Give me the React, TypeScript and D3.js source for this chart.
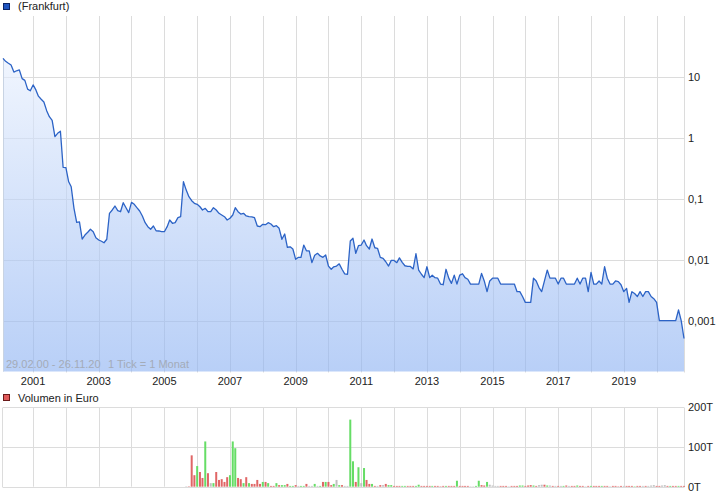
import React from "react";
import * as d3 from "d3";

// Monthly closing prices (EUR), Feb 2000 .. Nov 2020, one per month
const prices: number[] = [
  20.5, 18.3, 17.0, 15.9, 12.2, 12.8, 13.2, 9.5, 8.9, 6.4, 6.0, 7.5,
  6.2, 4.9, 4.35, 3.93, 2.83, 2.25, 1.96, 1.06, 1.2, 1.3, 0.332, 0.327,
  0.192, 0.159, 0.0703, 0.0414, 0.042, 0.022, 0.0256, 0.0284, 0.0318, 0.029, 0.0231, 0.0212,
  0.0202, 0.0191, 0.0218, 0.0582, 0.066, 0.0767, 0.0643, 0.0618, 0.0869, 0.0719, 0.0596, 0.088,
  0.0818, 0.072, 0.0635, 0.0526, 0.0408, 0.0351, 0.0318, 0.036, 0.0301, 0.0298, 0.029, 0.029,
  0.0351, 0.0452, 0.0399, 0.0408, 0.0493, 0.0512, 0.192, 0.14, 0.109, 0.0938, 0.085, 0.0818,
  0.0746, 0.066, 0.0703, 0.0618, 0.0618, 0.0719, 0.066, 0.0582, 0.0546, 0.0512, 0.0452, 0.0482,
  0.0546, 0.0719, 0.0618, 0.0566, 0.0582, 0.0526, 0.0512, 0.051, 0.0493, 0.036, 0.0351, 0.0384,
  0.0378, 0.0408, 0.0388, 0.0351, 0.0364, 0.033, 0.0218, 0.0266, 0.0161, 0.0164, 0.0151, 0.0102,
  0.011, 0.011, 0.0175, 0.0141, 0.014, 0.009, 0.0119, 0.0128, 0.0116, 0.011, 0.012, 0.0079,
  0.007, 0.0077, 0.0079, 0.0086, 0.007, 0.0059, 0.0058, 0.0204, 0.0226, 0.0128, 0.0171, 0.0175,
  0.0212, 0.0171, 0.0151, 0.022, 0.0158, 0.0155, 0.011, 0.0106, 0.0093, 0.0079, 0.0098, 0.0098,
  0.009, 0.0108, 0.0091, 0.008, 0.0078, 0.0078, 0.0071, 0.0126, 0.0068, 0.0058, 0.0051, 0.0077,
  0.0051, 0.0056, 0.0051, 0.005, 0.004, 0.0039, 0.007, 0.005, 0.0041, 0.0056, 0.004, 0.0056,
  0.0059, 0.0051, 0.0048, 0.004, 0.004, 0.004, 0.004, 0.006, 0.0045, 0.003, 0.0045, 0.005,
  0.005, 0.005, 0.004, 0.004, 0.004, 0.004, 0.004, 0.004, 0.003, 0.003, 0.0025, 0.002,
  0.002, 0.002, 0.005, 0.0045, 0.0035, 0.003, 0.0045, 0.0068, 0.005, 0.005, 0.005, 0.004,
  0.005, 0.005, 0.004, 0.004, 0.004, 0.004, 0.005, 0.004, 0.005, 0.005, 0.003, 0.0062,
  0.004, 0.004, 0.0045, 0.004, 0.0077, 0.005, 0.004, 0.004, 0.0045, 0.0044, 0.0039, 0.003,
  0.0034, 0.002, 0.003, 0.0028, 0.0025, 0.003, 0.0025, 0.003, 0.003, 0.0025, 0.0023, 0.002,
  0.001, 0.001, 0.001, 0.001, 0.001, 0.001, 0.001, 0.0015, 0.001, 0.00051,
];

// Monthly volume in thousand EUR, starting Sep 2005 (month index 67)
const volumeStartIndex = 67;
const volumes: number[] = [
  1, 1, 79, 29, 52, 37, 22, 114, 34, 9, 9, 37, 17,
  19, 12, 24, 29, 114, 97, 22, 19, 9, 24,
  9, 7, 7, 17, 7, 12, 12, 9, 2, 2,
  9, 4, 4, 4, 7, 2, 2, 4, 2, 2,
  2, 7, 2, 2, 7, 2, 2, 12, 12, 12,
  4, 7, 17, 4, 4, 2, 2, 169, 64, 12,
  49, 9, 47, 17, 7, 7, 2, 2, 4, 4,
  7, 4, 4, 2, 2, 2, 2, 2, 2, 2,
  2, 2, 5, 2, 2, 2, 2, 2, 2, 2,
  1, 2, 2, 2, 2, 2, 15, 2, 2, 2,
  2, 1, 1, 2, 15, 4, 3, 12, 5, 3,
  2, 2, 2, 2, 2, 1, 2, 2, 2, 3,
  3, 2, 3, 4, 3, 2, 4, 5, 5, 3,
  3, 2, 2, 2, 2, 2, 3, 2, 2, 2,
  3, 2, 2, 1, 2, 2, 2, 2, 2, 2,
  2, 2, 1, 2, 2, 1, 2, 2, 2, 2,
  2, 1, 2, 2, 2, 2, 2, 3, 4, 2,
  2, 3, 4, 2, 2, 2, 2, 2, 2, 2,
];
// u = up (green), d = down (red), n = unchanged (grey)
const volumeDirs: string[] = [
  "n", "d", "d", "d", "u", "d", "d", "u", "d", "n", "u", "d", "d",
  "d", "d", "d", "u", "u", "u", "d", "d", "u", "d",
  "u", "d", "d", "d", "d", "u", "d", "u", "d", "d",
  "u", "d", "u", "u", "d", "u", "u", "d", "n", "u",
  "u", "d", "n", "n", "u", "n", "u", "d", "u", "d",
  "d", "u", "n", "u", "d", "n", "n", "u", "u", "d",
  "u", "n", "u", "d", "d", "u", "d", "n", "d", "n",
  "d", "u", "u", "d", "d", "d", "u", "u", "d", "d",
  "d", "u", "u", "d", "d", "d", "d", "u", "d", "d",
  "d", "d", "u", "d", "d", "d", "u", "d", "d", "d",
  "d", "n", "n", "u", "u", "d", "d", "u", "n", "n",
  "n", "n", "d", "d", "d", "n", "d", "d", "d", "u",
  "u", "d", "d", "d", "u", "d", "n", "n", "d", "u",
  "n", "d", "n", "d", "n", "u", "d", "n", "d", "d",
  "u", "d", "d", "n", "d", "u", "d", "d", "d", "u",
  "d", "d", "n", "d", "d", "d", "d", "n", "d", "d",
  "d", "u", "d", "d", "n", "d", "n", "n", "n", "d",
  "d", "n", "n", "d", "u", "d", "d", "u", "d", "d",
];

const priceTicks = [10, 1, 0.1, 0.01, 0.001];
const priceTickLabels = ["10", "1", "0,1", "0,01", "0,001"];
const volumeTicks = [0, 100, 200];
const volumeTickLabels = ["0T", "100T", "200T"];
const gridYears = [2001, 2002, 2003, 2004, 2005, 2006, 2007, 2008, 2009, 2010, 2011, 2012, 2013, 2014, 2015, 2016, 2017, 2018, 2019, 2020];
const labelYears = [2001, 2003, 2005, 2007, 2009, 2011, 2013, 2015, 2017, 2019];

const FONT = "'Liberation Sans', Arial, Helvetica, sans-serif";
const W = 726;
const H = 496;
const PLOT_L = 3;
const PLOT_R = 684;
const PLOT_T = 16;
const PLOT_B = 371.5;
const VOL_T = 407.3;
const VOL_B = 486.7;

const monthDate = (i: number) => new Date(2000, 1 + i, 1);

export default function App() {
  const x = d3.scaleTime().domain([new Date(2000, 1, 1), new Date(2020, 10, 1)]).range([PLOT_L, PLOT_R]);
  const y = d3.scaleLog().domain([0.001, 10]).range([320.7, 77.3]);
  const vy = d3.scaleLinear().domain([0, 200]).range([VOL_B, VOL_T]);

  const series = prices.map((v, i) => ({ date: monthDate(i), value: v }));
  const line = d3.line<{ date: Date; value: number }>().x((d) => x(d.date)).y((d) => y(d.value));
  const area = d3
    .area<{ date: Date; value: number }>()
    .x((d) => x(d.date))
    .y0(PLOT_B)
    .y1((d) => y(d.value));

  const vol = volumes.map((v, i) => ({ date: monthDate(volumeStartIndex + i), value: v, dir: volumeDirs[i] }));
  const dirColor: Record<string, string> = { u: "#66dd66", d: "#e06666", n: "#c0c0c0" };

  const px = (v: number) => Math.round(v) + 0.5;
  const grid = "#dcdcdc";

  return (
    <svg
      width={W}
      height={H}
      style={{ position: "absolute", left: 0, top: 0, background: "#fff" }}
      fontFamily={FONT}
      fontSize={11}
    >
      <defs>
        <linearGradient id="fillGrad" gradientUnits="userSpaceOnUse" x1={0} y1={PLOT_T} x2={0} y2={PLOT_B}>
          <stop offset="0%" stopColor="#f4f8ff" stopOpacity={0.65} />
          <stop offset="100%" stopColor="#8db2f2" stopOpacity={0.62} />
        </linearGradient>
      </defs>

      {/* main chart grid */}
      {gridYears.map((yr) => (
        <line key={"vg" + yr} x1={px(x(new Date(yr, 0, 1)))} x2={px(x(new Date(yr, 0, 1)))} y1={PLOT_T} y2={PLOT_B + 1} stroke={grid} />
      ))}
      {priceTicks.map((t) => (
        <line key={"hg" + t} x1={PLOT_L} x2={PLOT_R} y1={px(y(t))} y2={px(y(t))} stroke={grid} />
      ))}
      <line x1={px(PLOT_R)} x2={px(PLOT_R)} y1={PLOT_T} y2={PLOT_B + 1} stroke={grid} />

      {/* area + line */}
      <path d={area(series) || ""} fill="url(#fillGrad)" />
      <line x1={px(PLOT_L)} x2={px(PLOT_L)} y1={y(prices[0])} y2={PLOT_B} stroke="#c8d3e3" />
      <path d={line(series) || ""} fill="none" stroke="#2c63c6" strokeWidth={1.3} strokeLinejoin="round" />

      {/* price axis labels */}
      {priceTicks.map((t, i) => (
        <text key={"pl" + t} x={688} y={y(t)} dy="0.35em" fill="#222">
          {priceTickLabels[i]}
        </text>
      ))}
      {labelYears.map((yr) => (
        <text key={"xl" + yr} x={x(new Date(yr, 0, 1))} y={385} textAnchor="middle" fill="#222">
          {yr}
        </text>
      ))}

      {/* range info */}
      <text x={6} y={368} fill="#a3abb8">29.02.00 - 26.11.20</text>
      <text x={108} y={368} fill="#a3abb8">1 Tick = 1 Monat</text>

      {/* legend */}
      <rect x={3.5} y={3.5} width={6} height={6} fill="#1f55c0" stroke="#0b2466" />
      <text x={18} y={10} fill="#222">(Frankfurt)</text>

      {/* volume panel */}
      <rect x={3.5} y={394.5} width={6} height={6} fill="#e05a5a" stroke="#6a1a1a" />
      <text x={18} y={402} fill="#222">Volumen in Euro</text>

      {gridYears.map((yr) => (
        <line key={"vvg" + yr} x1={px(x(new Date(yr, 0, 1)))} x2={px(x(new Date(yr, 0, 1)))} y1={VOL_T} y2={VOL_B} stroke={grid} />
      ))}
      {volumeTicks.map((t) => (
        <line key={"vhg" + t} x1={PLOT_L} x2={PLOT_R} y1={px(vy(t))} y2={px(vy(t))} stroke={grid} />
      ))}
      <line x1={px(PLOT_L) - 1} x2={px(PLOT_L) - 1} y1={px(VOL_T)} y2={px(VOL_B)} stroke={grid} />
      <line x1={px(PLOT_R)} x2={px(PLOT_R)} y1={px(VOL_T)} y2={px(VOL_B)} stroke={grid} />

      {vol.map((d, i) => (
        <rect
          key={"vb" + i}
          x={x(d.date) - 1}
          y={vy(d.value)}
          width={2}
          height={Math.max(0, VOL_B - vy(d.value))}
          fill={dirColor[d.dir]}
        />
      ))}

      {volumeTicks.map((t, i) => (
        <text key={"vl" + t} x={688} y={vy(t)} dy="0.35em" fill="#222">
          {volumeTickLabels[i]}
        </text>
      ))}
    </svg>
  );
}
